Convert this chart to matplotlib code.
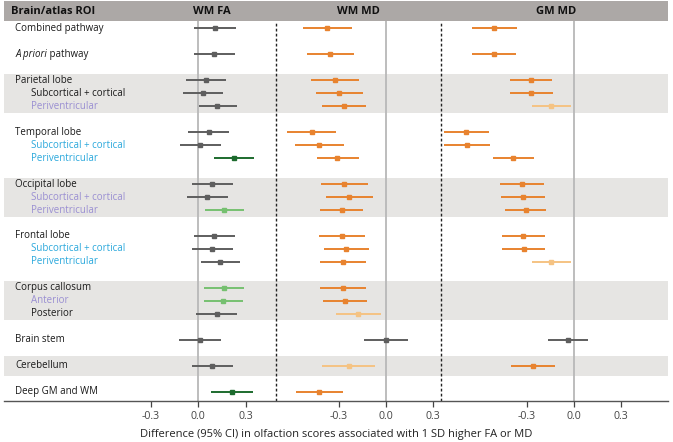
import numpy as np
import matplotlib.pyplot as plt
from matplotlib.patches import Rectangle
import matplotlib.transforms as mtransforms

plt.rcParams['font.family'] = ['Open Sans', 'DejaVu Sans']

# rows of the forest plot
labels = ["Combined pathway", "A priori pathway",
          "Parietal lobe", "Subcortical + cortical", "Periventricular",
          "Temporal lobe", "Subcortical + cortical", "Periventricular",
          "Occipital lobe", "Subcortical + cortical", "Periventricular",
          "Frontal lobe", "Subcortical + cortical", "Periventricular",
          "Corpus callosum", "Anterior", "Posterior",
          "Brain stem", "Cerebellum", "Deep GM and WM"]
row_pos = [0, 2, 4, 5, 6, 8, 9, 10, 12, 13, 14, 16, 17, 18, 20, 21, 22, 24, 26, 28]
indent = [0, 0, 0, 1, 1, 0, 1, 1, 0, 1, 1, 0, 1, 1, 0, 1, 1, 0, 0, 0]
label_col = ["k", "k", "k", "k", "lav", "k", "blue", "blue", "k", "lav", "lav",
             "k", "blue", "blue", "k", "lav", "k", "k", "k", "k"]
band_rows = [(3.5, 6.5), (11.5, 14.5), (19.5, 22.5), (25.25, 26.75)]

panels = ["WM FA", "WM MD", "GM MD"]

fa_est = [0.108, 0.100, 0.047, 0.030, 0.121, 0.066, 0.013, 0.227, 0.089, 0.057, 0.163,
          0.102, 0.089, 0.138, 0.161, 0.159, 0.117, 0.009, 0.087, 0.214]
fa_lo = [-0.025, -0.030, -0.078, -0.095, 0.002, -0.063, -0.116, 0.102, -0.038, -0.074, 0.041,
         -0.025, -0.038, 0.019, 0.038, 0.036, -0.013, -0.123, -0.040, 0.081]
fa_hi = [0.239, 0.231, 0.174, 0.157, 0.244, 0.195, 0.144, 0.352, 0.222, 0.187, 0.288,
         0.233, 0.220, 0.267, 0.290, 0.286, 0.244, 0.142, 0.218, 0.347]
fa_col = ["g", "g", "g", "g", "g", "g", "g", "dg", "g", "g", "lg",
          "g", "g", "g", "lg", "lg", "g", "g", "g", "dg"]

wmmd_est = [-0.373, -0.353, -0.322, -0.296, -0.267, -0.472, -0.423, -0.309, -0.267, -0.233, -0.281,
            -0.281, -0.252, -0.271, -0.271, -0.258, -0.176, 0.000, -0.235, -0.423]
wmmd_lo = [-0.527, -0.504, -0.474, -0.442, -0.404, -0.627, -0.578, -0.440, -0.415, -0.381, -0.419,
           -0.427, -0.396, -0.419, -0.419, -0.398, -0.317, -0.140, -0.404, -0.571]
wmmd_hi = [-0.218, -0.201, -0.171, -0.144, -0.125, -0.315, -0.269, -0.171, -0.116, -0.085, -0.148,
           -0.133, -0.110, -0.125, -0.125, -0.123, -0.032, 0.142, -0.068, -0.273]
wmmd_col = ["o"] * 16 + ["lo", "g", "lo", "o"]

gmmd_est = [-0.508, -0.508, -0.275, -0.271, -0.144, -0.684, -0.681, -0.387, -0.328, -0.326, -0.307,
            -0.322, -0.320, -0.144, None, None, None, -0.038, -0.262, None]
gmmd_lo = [-0.650, -0.650, -0.406, -0.404, -0.267, -0.825, -0.825, -0.516, -0.468, -0.463, -0.438,
           -0.457, -0.455, -0.267, None, None, None, -0.163, -0.402, None]
gmmd_hi = [-0.364, -0.368, -0.140, -0.135, -0.019, -0.540, -0.535, -0.254, -0.188, -0.184, -0.180,
           -0.186, -0.186, -0.019, None, None, None, 0.089, -0.121, None]
gmmd_col = ["o", "o", "o", "o", "lo", "o", "o", "o", "o", "o", "o",
            "o", "o", "lo", None, None, None, "g", "o", None]

colors = {"g": "#5e5e5e", "dg": "#1d6b2e", "lg": "#76c070",
          "o": "#e8832f", "lo": "#f5c383"}
text_colors = {"k": "#1a1a1a", "lav": "#9a8fd2", "blue": "#2aa8dc"}

offsets = [0.0, 1.192, 2.385]
separators = [0.493, 1.541]
tick_vals = [-0.3, 0.0, 0.3]

fig = plt.figure(figsize=(6.73, 4.42), dpi=100)
ax = fig.add_axes([4 / 673, 1 - 401 / 442, 664 / 673, 380 / 442])
ax.set_xlim(-1.234, 2.982)
ax.set_ylim(28.71, -0.56)

for y0, y1 in band_rows:
    ax.axhspan(y0, y1, color="#e6e5e3", lw=0, zorder=0)

for off in offsets:
    ax.axvline(off, color="#b8b8b8", lw=1.3, zorder=1)
for s in separators:
    ax.axvline(s, color="#222222", lw=1.0, ls=(0, (2, 1.6)), zorder=1)

series = [(fa_est, fa_lo, fa_hi, fa_col),
          (wmmd_est, wmmd_lo, wmmd_hi, wmmd_col),
          (gmmd_est, gmmd_lo, gmmd_hi, gmmd_col)]
for off, (est, lo, hi, col) in zip(offsets, series):
    for i in range(len(labels)):
        if est[i] is None:
            continue
        c = colors[col[i]]
        ax.plot([off + lo[i], off + hi[i]], [row_pos[i], row_pos[i]], color=c, lw=1.4,
                solid_capstyle="butt", zorder=3)
        ax.plot(off + est[i], row_pos[i], "s", color=c, ms=3.0, zorder=4)

# row labels
trans = mtransforms.blended_transform_factory(ax.transAxes, ax.transData)
fs = 7.0
for i, lab in enumerate(labels):
    x = 0.017 if indent[i] == 0 else 0.040
    c = text_colors[label_col[i]]
    if lab == "A priori pathway":
        t = ax.text(x, row_pos[i], "A priori", transform=trans, style="italic",
                    fontsize=fs, color=c, va="center")
        ax.annotate(" pathway", xy=(1, 0.5), xycoords=t, fontsize=fs, color=c,
                    va="center", ha="left")
    else:
        ax.text(x, row_pos[i], lab, transform=trans, fontsize=fs, color=c, va="center")

ticks = [off + v for off in offsets for v in tick_vals]
ax.set_xticks(ticks)
ax.set_xticklabels(["%.1f" % v for off in offsets for v in tick_vals])
ax.tick_params(axis="x", colors="#444444", labelsize=7.6, length=4, width=0.9, pad=3)
ax.tick_params(axis="y", left=False, labelleft=False)
for sp in ["top", "left", "right"]:
    ax.spines[sp].set_visible(False)
ax.spines["bottom"].set_color("#555555")
ax.spines["bottom"].set_linewidth(1.0)
ax.set_xlabel("Difference (95% CI) in olfaction scores associated with 1 SD higher FA or MD",
              fontsize=8.0, color="#222222", labelpad=5)

# header bar
fig.patches.append(Rectangle((4 / 673, 1 - 21 / 442), 664 / 673, 20 / 442,
                             transform=fig.transFigure, color="#aca8a6", lw=0))
hy = 1 - 11 / 442
fig.text(11 / 673, hy, "Brain/atlas ROI", fontsize=8, weight="bold", va="center", color="#111111")
for name, cx in zip(panels, [212, 358.5, 556]):
    fig.text(cx / 673, hy, name, fontsize=8, weight="bold", va="center", ha="center",
             color="#111111")

fig.savefig("out.png", dpi=100)
